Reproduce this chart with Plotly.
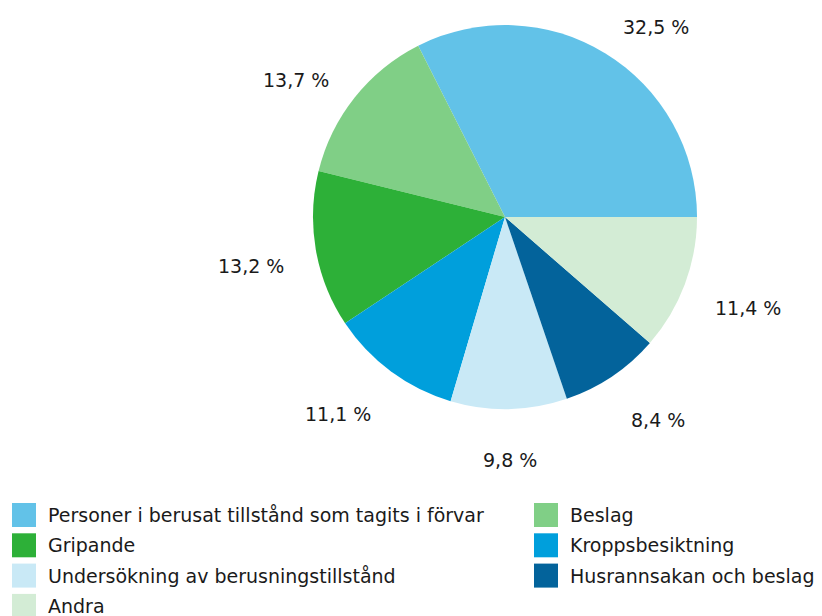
import math
import plotly.graph_objects as go

# ---- data ----
categories = [
    "Personer i berusat tillstånd som tagits i förvar",
    "Beslag",
    "Gripande",
    "Kroppsbesiktning",
    "Undersökning av berusningstillstånd",
    "Husrannsakan och beslag",
    "Andra",
]
shares = [32.5, 13.7, 13.2, 11.1, 9.8, 8.4, 11.4]
colors = ["#62C2E8", "#80CF86", "#2DB038", "#009FDC", "#C9E9F6", "#03639B", "#D3ECD5"]
value_labels = [f"{v:.1f}".replace(".", ",") + " %" for v in shares]

# ---- layout constants (pixels) ----
W, H = 822, 616
CX, CY, R = 505, 217, 192
LABEL_RX, LABEL_RY = 222, 234
FONT = "DejaVu Sans"
TEXT_COLOR = "#1a1a1a"


def px(x):
    return x / W


def py(y):
    return 1 - y / H


total = sum(shares)
first_angle = shares[0] / total * 360  # plotly ccw: first slice ends at rotation

fig = go.Figure()
fig.add_trace(go.Pie(
    labels=categories,
    values=shares,
    marker=dict(colors=colors, line=dict(width=0)),
    sort=False,
    direction="counterclockwise",
    rotation=90 - first_angle,
    textinfo="none",
    hoverinfo="label+percent",
    showlegend=False,
    domain=dict(x=[px(CX - R), px(CX + R)], y=[py(CY + R), py(CY - R)]),
))

annotations = []
shapes = []

# value labels around the pie, derived from slice mid-angles
start = 0.0
for v, txt in zip(shares, value_labels):
    mid = (start + v / 2) / total * 2 * math.pi
    start += v
    c, s = math.cos(mid), math.sin(mid)
    x = CX + LABEL_RX * c
    y = CY - LABEL_RY * s + 9
    if c > 0.2:
        xa = "left"
    elif c < -0.2:
        xa = "right"
    else:
        xa = "center"
    annotations.append(dict(
        x=px(x), y=py(y), xref="paper", yref="paper",
        text=txt, showarrow=False, xanchor=xa, yanchor="middle",
        font=dict(family=FONT, size=19, color=TEXT_COLOR),
    ))

# legend: two columns, filled row by row
col_sq_x = [12, 534]
row_y0, row_step, sq = 515, 30.3, 24
for i, (name, col) in enumerate(zip(categories, colors)):
    row, colidx = divmod(i, 2)
    yc = row_y0 + row * row_step
    sx = col_sq_x[colidx]
    shapes.append(dict(
        type="rect", xref="paper", yref="paper",
        x0=px(sx), x1=px(sx + sq), y0=py(yc + sq / 2), y1=py(yc - sq / 2),
        fillcolor=col, line=dict(width=0),
    ))
    annotations.append(dict(
        x=px(sx + 34), y=py(yc), xref="paper", yref="paper",
        text=name, showarrow=False, xanchor="left", yanchor="middle",
        font=dict(family=FONT, size=19, color=TEXT_COLOR),
    ))

fig.update_layout(
    width=W, height=H,
    margin=dict(l=0, r=0, t=0, b=0),
    paper_bgcolor="white",
    plot_bgcolor="white",
    annotations=annotations,
    shapes=shapes,
    showlegend=False,
)

fig.write_html(
    "out.html",
    config={"displayModeBar": False},
    post_script="document.body.style.margin='0';",
)
